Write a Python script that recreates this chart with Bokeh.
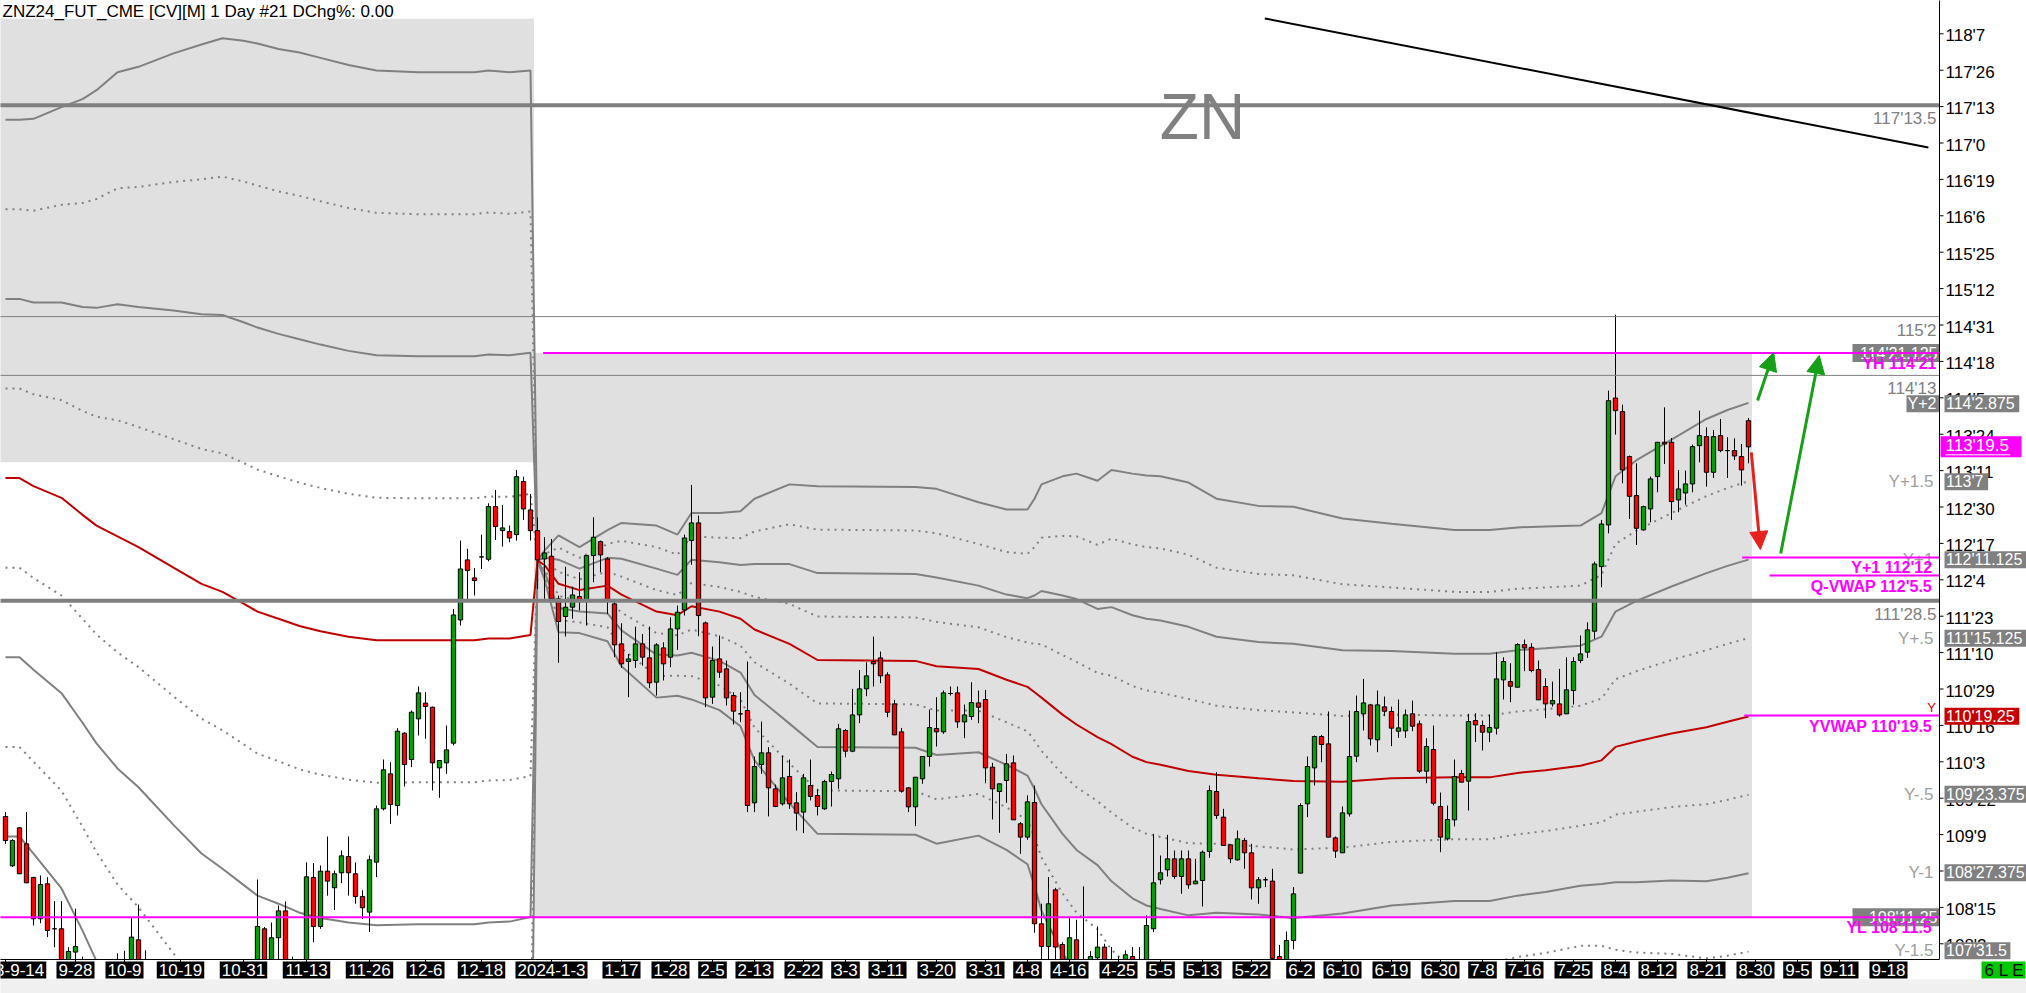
import numpy as np
from bokeh.plotting import figure
from bokeh.models import Range1d, Arrow, NormalHead, ColumnDataSource
from bokeh.embed import file_html
from bokeh.resources import INLINE
from bokeh.core.properties import value

FONT = "Liberation Sans"

# ---------------- data (daily bars, index 0 = 2023-9-14) ----------------
opens = [109.483, 108.933, 109.357, 109.178, 108.803, 108.342, 108.732, 108.230, 108.230, 107.700,
         107.970, 107.850, 107.550, 107.300, 107.500, 107.050, 107.200, 107.750, 107.300, 108.107,
         107.500, 107.200, 106.900, 106.600, 106.850, 106.300, 106.000, 106.400, 106.100, 106.500,
         106.800, 106.400, 106.700, 107.100, 106.800, 107.200, 107.600, 108.230, 107.700, 108.130,
         108.430, 107.650, 107.800, 107.600, 108.803, 108.256, 108.873, 108.688, 108.855, 109.037,
         108.844, 108.590, 108.416, 108.974, 109.569, 109.959, 109.606, 110.413, 110.119, 110.573,
         110.748, 110.703, 110.026, 110.082, 110.302, 111.677, 112.347, 112.146, 112.380, 112.354,
         112.942, 112.674, 112.663, 112.629, 113.221, 112.905, 112.674, 112.358, 112.388, 111.912,
         111.715, 111.819, 111.938, 111.893, 112.395, 112.551, 112.358, 111.856, 111.410, 111.213,
         111.224, 111.410, 111.254, 110.982, 111.365, 111.261, 111.577, 111.789, 112.563, 112.760,
         111.644, 110.815, 111.242, 111.131, 110.833, 110.629, 110.666, 109.636, 110.064, 110.194,
         109.792, 109.625, 109.930, 109.636, 109.532, 109.829, 109.718, 109.569, 109.874, 109.904,
         110.443, 110.212, 110.617, 110.908, 111.213, 111.253, 111.064, 110.740, 110.428, 109.803,
         109.591, 109.904, 110.153, 110.465, 110.428, 110.856, 110.863, 110.539, 110.599, 110.751,
         110.789, 110.034, 109.762, 109.885, 110.082, 109.402, 109.253, 109.640, 108.286, 108.033,
         108.665, 108.055, 107.700, 108.107, 107.600, 107.750, 107.906, 108.026, 107.850, 107.800,
         107.800, 107.921, 107.800, 107.800, 108.230, 108.777, 108.888, 109.011, 108.814, 109.011,
         108.732, 108.769, 109.093, 109.762, 109.476, 109.167, 108.999, 109.216, 109.078, 108.687,
         108.777, 108.762, 107.920, 107.750, 108.100, 108.851, 109.625, 110.026, 110.376, 110.294,
         109.245, 109.078, 109.513, 110.156, 110.629, 110.729, 110.339, 110.707, 110.655, 110.435,
         110.439, 110.629, 110.517, 109.989, 110.231, 109.595, 109.234, 109.446, 109.963, 109.878,
         110.554, 110.499, 110.424, 110.469, 111.008, 110.989, 110.926, 111.402, 111.372, 111.123,
         110.934, 110.740, 110.740, 110.629, 110.889, 111.224, 111.317, 111.551, 112.272, 112.737,
         114.154, 114.002, 113.500, 113.065, 112.682, 112.916, 113.277, 113.660, 113.660, 113.016,
         113.094, 113.195, 113.622, 113.723, 113.325, 113.734, 113.567, 113.567, 113.500, 113.901]
highs = [109.532, 109.230, 109.365, 109.532, 108.810, 108.825, 108.807, 108.539, 108.539, 108.025,
         108.455, 107.920, 107.700, 107.600, 107.700, 107.300, 107.955, 107.985, 108.350, 108.500,
         107.990, 107.500, 107.200, 107.000, 107.100, 106.600, 106.500, 106.700, 106.600, 106.900,
         106.950, 106.800, 107.200, 107.400, 107.300, 107.700, 108.781, 108.250, 108.300, 108.490,
         108.535, 107.920, 107.850, 108.970, 108.963, 108.937, 109.260, 108.880, 109.104, 109.260,
         108.970, 108.660, 109.048, 109.606, 110.119, 110.089, 110.469, 110.424, 110.666, 110.934,
         110.871, 110.710, 110.110, 110.499, 111.800, 112.563, 112.470, 112.254, 112.629, 112.979,
         113.128, 112.960, 112.730, 113.351, 113.276, 113.083, 112.823, 112.600, 112.581, 111.949,
         112.272, 112.049, 112.209, 112.395, 112.823, 112.563, 112.377, 111.893, 111.640, 111.298,
         111.603, 111.521, 111.603, 111.417, 111.428, 111.707, 111.837, 112.629, 113.184, 112.841,
         111.659, 111.380, 111.503, 111.224, 110.871, 110.871, 111.213, 110.153, 110.543, 110.257,
         109.840, 110.164, 110.119, 109.755, 109.959, 110.119, 109.792, 109.892, 109.986, 110.517,
         110.461, 110.908, 111.119, 111.205, 111.491, 111.324, 111.093, 110.785, 110.472, 109.810,
         109.922, 110.153, 110.677, 110.815, 110.889, 110.934, 110.934, 110.733, 110.982, 110.889,
         110.896, 110.082, 109.850, 110.182, 110.164, 109.420, 109.718, 109.829, 108.509, 108.807,
         108.687, 108.080, 108.368, 108.331, 108.703, 107.981, 108.256, 108.063, 108.026, 107.921,
         107.988, 108.026, 108.026, 108.379, 109.290, 109.048, 109.279, 109.104, 109.104, 109.104,
         109.011, 109.104, 109.829, 109.978, 109.569, 109.170, 109.327, 109.245, 109.178, 108.807,
         108.807, 108.900, 108.050, 108.200, 108.695, 109.632, 110.153, 110.387, 110.394, 110.655,
         109.260, 109.595, 110.666, 110.833, 111.019, 110.740, 110.889, 110.822, 110.710, 110.789,
         110.677, 110.777, 110.554, 110.357, 110.499, 109.751, 109.606, 110.119, 110.004, 110.629,
         110.636, 110.554, 110.621, 111.317, 111.261, 111.194, 111.417, 111.458, 111.417, 111.224,
         111.027, 110.989, 111.131, 111.261, 111.261, 111.503, 111.651, 112.328, 112.793, 114.236,
         115.084, 114.080, 113.511, 113.425, 112.953, 113.277, 113.660, 114.050, 113.708, 113.351,
         113.344, 113.634, 114.013, 113.827, 113.797, 113.920, 113.716, 113.704, 113.641, 113.931]
lows = [109.178, 108.920, 108.840, 108.740, 108.267, 108.293, 108.137, 108.025, 107.600, 107.600,
        107.800, 107.450, 107.200, 107.100, 107.000, 106.700, 107.100, 107.200, 107.250, 107.400,
        107.100, 106.800, 106.500, 106.400, 106.200, 105.900, 105.800, 106.000, 105.900, 106.300,
        106.300, 106.100, 106.500, 106.700, 106.600, 107.000, 107.500, 107.600, 107.550, 107.850,
        107.550, 107.400, 107.450, 107.550, 108.080, 108.230, 108.600, 108.440, 108.740, 108.600,
        108.510, 108.340, 108.193, 108.807, 109.550, 109.401, 109.494, 109.818, 110.034, 110.387,
        110.350, 109.774, 109.692, 109.959, 110.276, 111.614, 111.893, 111.949, 112.246, 112.332,
        112.570, 112.496, 112.544, 112.563, 112.793, 112.563, 112.023, 111.912, 111.893, 111.198,
        111.492, 111.689, 111.782, 111.614, 112.098, 112.209, 111.745, 111.261, 111.142, 110.815,
        111.142, 111.168, 110.915, 110.833, 111.001, 111.149, 111.343, 111.726, 112.291, 111.495,
        110.703, 110.740, 111.030, 110.722, 110.510, 110.536, 109.532, 109.532, 109.959, 109.484,
        109.588, 109.606, 109.569, 109.327, 109.298, 109.662, 109.495, 109.558, 109.595, 109.792,
        110.145, 110.201, 110.525, 110.826, 110.934, 110.971, 110.591, 110.394, 109.751, 109.532,
        109.375, 109.848, 110.041, 110.264, 110.406, 110.833, 110.472, 110.357, 110.562, 110.525,
        109.855, 109.450, 109.301, 109.636, 109.446, 109.067, 109.223, 108.185, 107.800, 107.850,
        107.850, 107.600, 107.600, 107.550, 107.400, 107.600, 107.850, 107.700, 107.600, 107.650,
        107.700, 107.700, 107.700, 107.750, 108.193, 108.725, 108.814, 108.788, 108.621, 108.677,
        108.732, 108.479, 109.022, 109.457, 109.160, 108.963, 108.992, 108.900, 108.557, 108.509,
        108.695, 107.800, 107.600, 107.650, 108.000, 108.851, 109.476, 109.829, 110.089, 109.253,
        109.022, 109.078, 109.483, 110.089, 110.443, 110.275, 110.201, 110.603, 110.268, 110.361,
        110.361, 110.435, 109.967, 109.855, 109.606, 109.085, 109.216, 109.372, 109.866, 109.550,
        110.313, 110.220, 110.313, 110.398, 110.789, 110.759, 110.926, 111.105, 111.093, 110.785,
        110.580, 110.710, 110.599, 110.629, 110.733, 111.194, 111.254, 111.465, 112.042, 112.644,
        113.745, 113.202, 112.804, 112.514, 112.674, 112.767, 113.102, 113.418, 112.793, 112.879,
        112.964, 113.102, 113.436, 113.165, 113.262, 113.548, 113.262, 113.462, 113.176, 113.425]
closes = [109.215, 109.215, 108.844, 108.743, 108.342, 108.725, 108.211, 108.230, 107.700, 107.977,
          108.033, 107.550, 107.300, 107.500, 107.050, 107.200, 107.750, 107.300, 108.137, 107.500,
          107.200, 106.900, 106.600, 106.850, 106.300, 106.000, 106.400, 106.100, 106.500, 106.800,
          106.400, 106.700, 107.100, 106.800, 107.200, 107.600, 108.256, 107.700, 108.130, 108.430,
          107.650, 107.800, 107.600, 108.810, 108.256, 108.873, 108.762, 108.844, 109.044, 108.855,
          108.590, 108.465, 109.000, 109.569, 110.004, 109.617, 110.435, 110.064, 110.647, 110.863,
          110.711, 110.082, 110.108, 110.227, 111.733, 112.246, 112.228, 112.116, 112.380, 112.942,
          112.719, 112.704, 112.592, 113.276, 112.916, 112.674, 112.347, 112.425, 111.912, 111.659,
          111.819, 111.956, 111.893, 112.395, 112.600, 112.403, 111.893, 111.399, 111.187, 111.242,
          111.410, 111.261, 110.975, 111.399, 111.187, 111.577, 111.763, 112.592, 112.760, 111.726,
          110.807, 111.224, 111.094, 110.807, 110.659, 110.629, 109.606, 110.041, 110.194, 109.803,
          109.595, 109.915, 109.625, 109.521, 109.915, 109.707, 109.595, 109.874, 109.952, 110.462,
          110.212, 110.617, 110.908, 111.053, 111.187, 111.053, 110.647, 110.394, 109.766, 109.591,
          109.922, 110.153, 110.476, 110.428, 110.863, 110.856, 110.539, 110.617, 110.755, 110.703,
          110.026, 109.792, 109.848, 110.071, 109.446, 109.253, 109.647, 108.286, 108.033, 108.509,
          108.026, 107.750, 108.130, 107.700, 107.800, 107.921, 108.026, 107.800, 107.700, 107.750,
          107.940, 107.800, 107.870, 108.267, 108.743, 108.855, 109.011, 108.814, 109.011, 108.721,
          108.762, 109.085, 109.773, 109.495, 109.160, 109.011, 109.234, 109.078, 108.687, 108.777,
          108.777, 107.900, 107.750, 108.100, 108.620, 109.606, 110.041, 110.376, 110.287, 109.253,
          109.097, 109.524, 110.153, 110.655, 110.751, 110.350, 110.729, 110.658, 110.469, 110.472,
          110.617, 110.491, 109.989, 110.264, 109.632, 109.253, 109.450, 109.930, 109.866, 110.543,
          110.506, 110.424, 110.476, 111.019, 111.213, 110.937, 111.402, 111.365, 111.112, 110.785,
          110.740, 110.777, 110.617, 110.897, 111.213, 111.298, 111.566, 112.302, 112.748, 114.124,
          114.013, 113.351, 113.057, 112.700, 112.942, 113.251, 113.660, 113.641, 112.998, 113.139,
          113.195, 113.611, 113.734, 113.325, 113.723, 113.567, 113.567, 113.507, 113.351, 113.609]

# anchored VWAP (2023 anchor) and its band step, read at knot bars
vwap23_bar = [0, 2, 4, 8, 11, 13, 16, 19, 24, 28, 31, 34, 36, 39, 42, 45, 49, 53, 59, 67, 69, 72, 75]
vwap23 = [113.26, 113.26, 113.17, 113.04, 112.85, 112.73, 112.61, 112.49, 112.26, 112.08, 111.99,
          111.86, 111.77, 111.69, 111.61, 111.55, 111.49, 111.45, 111.45, 111.45, 111.47, 111.47, 111.51]
sd23 = [2.00, 2.00, 2.05, 2.18, 2.32, 2.43, 2.59, 2.68, 2.87, 3.01, 3.09, 3.14, 3.17, 3.18, 3.20,
        3.20, 3.19, 3.18, 3.17, 3.17, 3.17, 3.16, 3.15]
# anchored VWAP (2024 anchor)
vwap24_bar = [76, 77, 79, 82, 86, 88, 93, 96, 98, 102, 105, 107, 112, 116, 130, 133, 139, 143, 146, 147,
              148, 151, 153, 156, 158, 161, 163, 165, 169, 173, 179, 184, 191, 198, 207, 212, 216, 220,
              225, 228, 230, 233, 238, 243, 246, 249]
vwap24 = [112.34, 112.29, 112.08, 112.01, 112.06, 111.96, 111.77, 111.73, 111.83, 111.77, 111.69,
          111.57, 111.41, 111.23, 111.22, 111.16, 111.13, 111.01, 110.93, 110.87, 110.81, 110.62,
          110.51, 110.37, 110.29, 110.15, 110.09, 110.06, 109.99, 109.95, 109.91, 109.88, 109.87,
          109.91, 109.92, 109.92, 109.97, 110.00, 110.05, 110.11, 110.26, 110.32, 110.41, 110.48,
          110.54, 110.60]
sd24 = [0.00, 0.08, 0.27, 0.24, 0.31, 0.40, 0.48, 0.45, 0.52, 0.55, 0.60, 0.73, 0.89, 0.97, 0.97,
        0.99, 0.93, 0.95, 0.99, 1.08, 1.19, 1.33, 1.40, 1.43, 1.53, 1.58, 1.60, 1.61, 1.61, 1.54,
        1.52, 1.53, 1.47, 1.42, 1.38, 1.38, 1.37, 1.36, 1.34, 1.38, 1.51, 1.57, 1.64, 1.72, 1.74, 1.75]
band_mult = [2, 1.5, 1, 0.5, -0.5, -1, -1.5, -2]

# prior-year range boxes
range_left = [-1.0, 75.5]
range_right = [75.5, 249.5]
range_high = [118.386, 114.65625]
range_low = [113.438, 108.359375]

# horizontal reference lines
thick_levels = [117.421875, 111.890625]
thick_texts = ["117'13.5", "111'28.5"]
thin_levels = [115.0625, 114.40625]
thin_texts = ["115'2", "114'13"]

# magenta level lines
mag_levels = [114.65625, 112.375, 112.171875, 110.609375, 108.359375]
mag_texts = ["YH 114'21", "Y+1  112'12", "Q-VWAP  112'5.5", "YVWAP  110'19.5", "YL  108'11.5"]
mag_start = [76.8, 248.1, 252.0, 248.4, -1.0]
mag_box_levels = [114.65625, 108.359375]
mag_box_texts = ["114'21.125", "108'11.25"]

# band end values shown on the price scale
end_names = ["Y+2", "Y+1.5", "Y+1", "Y+.5", "Y", "Y-.5", "Y-1", "Y-1.5"]
end_levels = [114.08984, 113.21875, 112.34766, 111.47266, 110.60156, 109.73047, 108.85547, 107.98438]
end_texts = ["114'2.875", "113'7", "112'11.125", "111'15.125", "110'19.25", "109'23.375", "108'27.375", "107'31.5"]
last_price = 113.609375
last_text = "113'19.5"

# trend line and arrows (drawings)
trend_x = [179.9, 274.7]
trend_y = [118.39, 116.95]
arrow_x0 = [249.4, 253.6, 250.3]
arrow_y0 = [113.546, 112.418, 114.126]
arrow_x1 = [250.7, 259.1, 252.6]
arrow_y1 = [112.463, 114.628, 114.662]
arrow_col = ["#E8201E", "#17A017", "#17A017"]

# price-scale ticks
tick_vals = [118.21875, 117.8125, 117.40625, 117.0, 116.59375, 116.1875, 115.78125, 115.375, 114.96875,
             114.5625, 114.15625, 113.75, 113.34375, 112.9375, 112.53125, 112.125, 111.71875, 111.3125,
             110.90625, 110.5, 110.09375, 109.6875, 109.28125, 108.875, 108.46875, 108.0625]
tick_labels = ["118'7", "117'26", "117'13", "117'0", "116'19", "116'6", "115'25", "115'12", "114'31",
               "114'18", "114'5", "113'24", "113'11", "112'30", "112'17", "112'4", "111'23", "111'10",
               "110'29", "110'16", "110'3", "109'22", "109'9", "108'28", "108'15", "108'2"]

# date axis
date_pos = [0, 10, 17, 25, 34, 43, 52, 60, 68, 78, 88, 95, 101, 107, 114, 120, 126, 133, 140, 146, 152,
            159, 165, 171, 178, 185, 191, 198, 205, 211, 217, 224, 230, 236, 243, 250, 256, 262, 269]
date_labels = ["2023-9-14", "9-28", "10-9", "10-19", "10-31", "11-13", "11-26", "12-6", "12-18",
               "2024-1-3", "1-17", "1-28", "2-5", "2-13", "2-22", "3-3", "3-11", "3-20", "3-31", "4-8",
               "4-16", "4-25", "5-5", "5-13", "5-22", "6-2", "6-10", "6-19", "6-30", "7-8", "7-16",
               "7-25", "8-4", "8-12", "8-21", "8-30", "9-5", "9-11", "9-18"]

title_text = "ZNZ24_FUT_CME [CV][M]  1 Day #21 DChg%: 0.00"
symbol_text = "ZN"
symbol_pos = (171, 117.295)
status_text = "6 L E"

# ---------------- layout (pixel geometry of the page) ----------------
W, H = 2026, 993
PX_BAR = 7.0                     # pixels per bar
PX_PT = 89.6                     # pixels per price point
X0 = -5.0 / PX_BAR               # data x at left canvas edge
Y1 = 118.21875 + 33.3 / PX_PT    # data y at top canvas edge
XR = X0 + W / PX_BAR
YB = Y1 - H / PX_PT


def cx(px):
    return X0 + px / PX_BAR


def cy(py):
    return Y1 - py / PX_PT


AX = cx(1939)        # price scale line
Y0 = cy(959)         # bottom of price pane

GRAY = "#808080"
LGRAY = "#A0A0A0"
MAG = "#FF00FF"
RED_V = "#C00000"


def tw(s, size):
    w = 0.0
    for ch in s:
        if ch.isdigit():
            w += 0.556
        elif ch == "'":
            w += 0.191
        elif ch == ".":
            w += 0.278
        elif ch == "-":
            w += 0.333
        elif ch == " ":
            w += 0.278
        else:
            w += 0.667
    return w * size


def txt(x, y, t, color, size, align="left", base="middle", style="normal"):
    p.text(x=x, y=y, text=t, text_color=color, text_align=align, text_baseline=base,
           text_font=value(FONT), text_font_size=f"{size}px", text_font_style=style)


p = figure(width=W, height=H, x_range=Range1d(X0, XR), y_range=Range1d(YB, Y1),
           output_backend="svg", toolbar_location=None, x_axis_location=None,
           y_axis_location=None, min_border=0, background_fill_color="white",
           border_fill_color="white")
p.outline_line_color = None
p.grid.visible = False

# shaded range boxes
p.quad(left=range_left, right=range_right, bottom=range_low, top=range_high,
       fill_color="#E0E0E0", line_color=None)

# VWAP bands
bb = vwap23_bar + vwap24_bar
vw = np.array(vwap23 + vwap24)
sdv = np.array(sd23 + sd24)
for k in band_mult:
    solid = float(k).is_integer()
    p.line(bb, list(vw + k * sdv), line_color=GRAY, line_width=2,
           line_dash="solid" if solid else "2 5")
p.line(bb, list(vw), line_color=RED_V, line_width=2)

# candles
n = len(opens)
src = ColumnDataSource(dict(
    x=list(range(n)), o=opens, h=highs, l=lows, c=closes,
    top=[max(a, b) for a, b in zip(opens, closes)],
    bot=[min(a, b) for a, b in zip(opens, closes)],
    col=["#00A000" if c > o else "#FF0000" for o, c in zip(opens, closes)]))
p.segment(x0="x", y0="l", x1="x", y1="h", source=src, line_color="black", line_width=1)
p.vbar(x="x", width=0.62, top="top", bottom="bot", fill_color="col", line_color="black",
       line_width=1, source=src)

# reference lines and their labels
p.segment(x0=[X0 - 1] * 2, x1=[AX] * 2, y0=thick_levels, y1=thick_levels,
          line_color=GRAY, line_width=4)
p.segment(x0=[X0 - 1] * 2, x1=[AX] * 2, y0=thin_levels, y1=thin_levels,
          line_color=GRAY, line_width=1)
lv = thick_levels + thin_levels
txt([cx(1936)] * 4, [v - 4 / PX_PT for v in lv], thick_texts + thin_texts, GRAY, 17,
    align="right", base="top")

# trend line
p.line(trend_x, trend_y, line_color="black", line_width=2)

# symbol
txt([symbol_pos[0]], [symbol_pos[1]], [symbol_text], GRAY, 64, align="center")

# gray value boxes below magenta lines
p.quad(left=[cx(1852)] * 2, right=[AX] * 2, top=[v + 9 / PX_PT for v in mag_box_levels],
       bottom=[v - 9 / PX_PT for v in mag_box_levels], fill_color=GRAY, line_color=None)
txt([cx(1937)] * 2, mag_box_levels, mag_box_texts, "white", 16, align="right")

# band names at the right edge of the pane
p.quad(left=[cx(1906)], right=[AX], top=[end_levels[0] + 8.5 / PX_PT],
       bottom=[end_levels[0] - 8.5 / PX_PT], fill_color=GRAY, line_color=None)
txt([cx(1936)], [end_levels[0]], [end_names[0]], "white", 16, align="right")
other = [i for i in range(1, len(end_names)) if end_names[i] != "Y"]
txt([cx(1933)] * len(other), [end_levels[i] for i in other], [end_names[i] for i in other],
    LGRAY, 17, align="right")
iy = end_names.index("Y")
txt([cx(1931)], [end_levels[iy] + 1 / PX_PT], ["Y"], "#E00000", 13, align="center", base="bottom")

# magenta lines and labels
p.segment(x0=mag_start, x1=[AX] * len(mag_levels), y0=mag_levels, y1=mag_levels,
          line_color=MAG, line_width=2)
txt([cx(1936)] * len(mag_levels), [v - 2 / PX_PT for v in mag_levels], mag_texts, MAG, 16,
    align="right", base="top", style="bold")

# ---- date strip ----
p.quad(left=[X0 - 1], right=[XR + 1], top=[Y0], bottom=[YB - 1], fill_color="white",
       line_color=None)
p.quad(left=[X0 - 1], right=[XR + 1], top=[cy(979)], bottom=[YB - 1], fill_color="#F0F0F0",
       line_color=None)
p.segment(x0=[X0 - 1], x1=[AX], y0=[Y0], y1=[Y0], line_color="black", line_width=1)
p.segment(x0=date_pos, x1=date_pos, y0=[Y0] * len(date_pos), y1=[cy(963)] * len(date_pos),
          line_color="black", line_width=1)
box_w = [tw(s, 17) + 4 for s in date_labels]
p.rect(x=date_pos, y=[cy(969.5)] * len(date_pos), width=box_w, height=17 / PX_PT,
       width_units="screen", fill_color="black", line_color=None)
txt(date_pos, [cy(969.5)] * len(date_pos), date_labels, "white", 17, align="center")
p.quad(left=[cx(1981)], right=[cx(2025)], top=[cy(961)], bottom=[cy(978)], fill_color="#00C800",
       line_color=None)
txt([cx(1984)], [cy(969.5)], [status_text], "black", 17)

# ---- price scale ----
p.segment(x0=[AX], x1=[AX], y0=[Y0], y1=[Y1 + 1], line_color="black", line_width=1)
p.segment(x0=[AX] * len(tick_vals), x1=[cx(1943)] * len(tick_vals), y0=tick_vals, y1=tick_vals,
          line_color="black", line_width=1)
txt([cx(1945)] * len(tick_vals), [v - 2 / PX_PT for v in tick_vals], tick_labels, "black", 17)

# current band values on the scale
for nm, lv_, tx in zip(end_names, end_levels, end_texts):
    bg = "#C80000" if nm == "Y" else GRAY
    p.quad(left=[cx(1944)], right=[min(cx(1944) + (tw(tx, 16) + 5) / PX_BAR, XR + 1)],
           top=[lv_ + 8.5 / PX_PT], bottom=[lv_ - 8.5 / PX_PT], fill_color=bg, line_color=None)
    txt([cx(1945.5)], [lv_], [tx], "white", 16)
# last price
p.quad(left=[cx(1940)], right=[cx(2021)], top=[last_price + 10.5 / PX_PT],
       bottom=[last_price - 10.5 / PX_PT], fill_color=MAG, line_color=None)
txt([cx(1945)], [last_price + 1 / PX_PT], [last_text], "white", 17)
p.segment(x0=[cx(1945)], x1=[cx(1945) + tw(last_text, 17) / PX_BAR],
          y0=[last_price - 8 / PX_PT], y1=[last_price - 8 / PX_PT], line_color="white", line_width=1)

# title
txt([cx(2)], [cy(1)], [title_text], "black", 17, base="top")

# arrows
for x0, y0, x1, y1, c in zip(arrow_x0, arrow_y0, arrow_x1, arrow_y1, arrow_col):
    p.add_layout(Arrow(end=NormalHead(size=18, fill_color=c, line_color=c),
                       x_start=x0, y_start=y0, x_end=x1, y_end=y1, line_color=c, line_width=3))

open("out.html", "w").write(file_html(p, INLINE))
